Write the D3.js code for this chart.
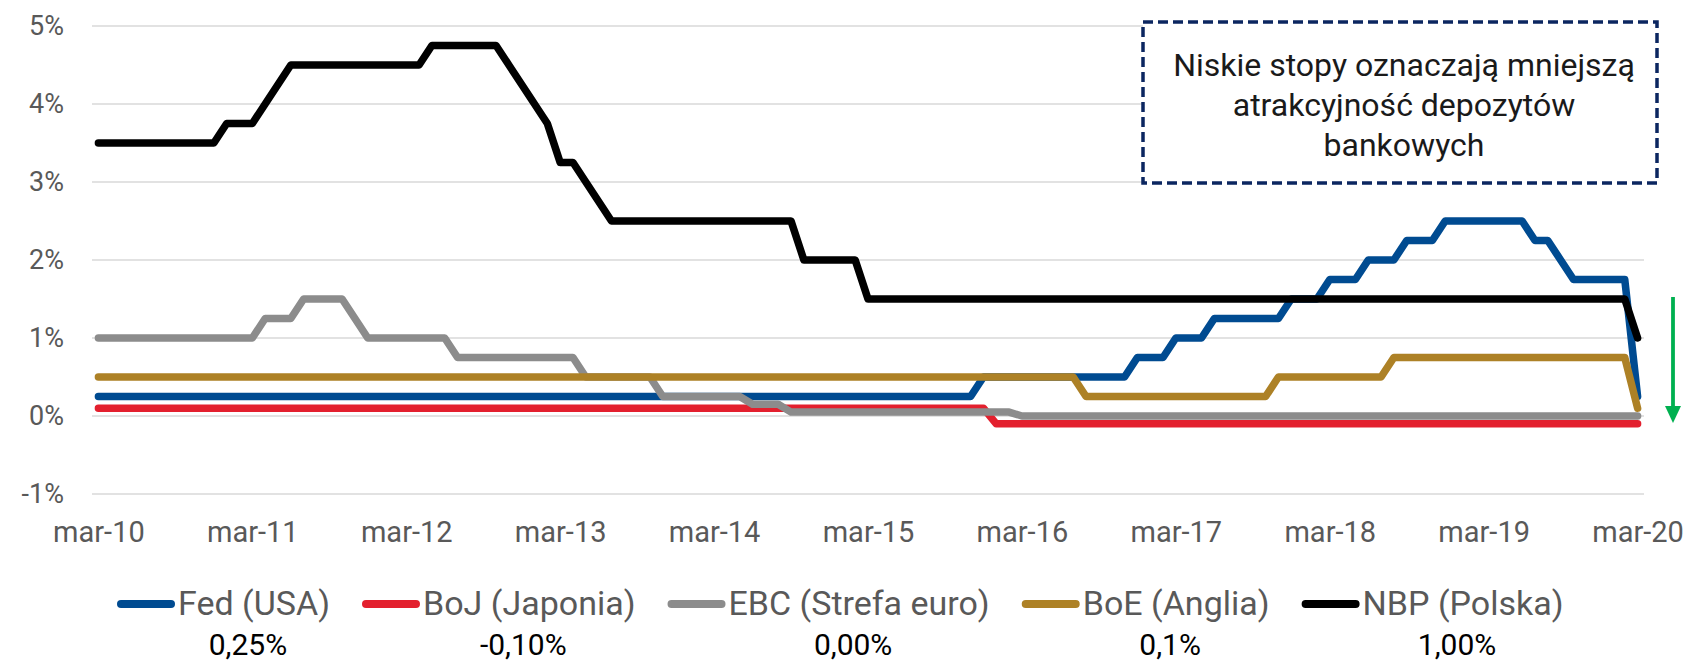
<!DOCTYPE html>
<html>
<head>
<meta charset="utf-8">
<script src="https://cdn.jsdelivr.net/npm/d3@7"></script>
<style>
  html, body { margin: 0; padding: 0; background: #fff; }
  svg { display: block; font-family: Roboto, "Noto Sans", sans-serif; }
</style>
</head>
<body>
<svg id="chart" width="1692" height="664"></svg>
<script>
// months from mar-10 to mar-20 (121 monthly points)
const monthNames = ["sty","lut","mar","kwi","maj","cze","lip","sie","wrz","paź","lis","gru"];
const months = [];
for (let i = 0; i <= 120; i++) {
	let m = (2 + i) % 12, y = 10 + Math.floor((2 + i) / 12);
	months.push(monthNames[m] + "-" + y);
}
const tickLabels = ["mar-10","mar-11","mar-12","mar-13","mar-14","mar-15","mar-16","mar-17","mar-18","mar-19","mar-20"];
const yTicks = [-1, 0, 1, 2, 3, 4, 5];

// policy rates, % (rows = mar..lut of each year)
const fed = [
	0.25,0.25,0.25,0.25,0.25,0.25,0.25,0.25,0.25,0.25,0.25,0.25,
	0.25,0.25,0.25,0.25,0.25,0.25,0.25,0.25,0.25,0.25,0.25,0.25,
	0.25,0.25,0.25,0.25,0.25,0.25,0.25,0.25,0.25,0.25,0.25,0.25,
	0.25,0.25,0.25,0.25,0.25,0.25,0.25,0.25,0.25,0.25,0.25,0.25,
	0.25,0.25,0.25,0.25,0.25,0.25,0.25,0.25,0.25,0.25,0.25,0.25,
	0.25,0.25,0.25,0.25,0.25,0.25,0.25,0.25,0.25,0.5,0.5,0.5,
	0.5,0.5,0.5,0.5,0.5,0.5,0.5,0.5,0.5,0.75,0.75,0.75,
	1,1,1,1.25,1.25,1.25,1.25,1.25,1.25,1.5,1.5,1.5,
	1.75,1.75,1.75,2,2,2,2.25,2.25,2.25,2.5,2.5,2.5,
	2.5,2.5,2.5,2.5,2.25,2.25,2,1.75,1.75,1.75,1.75,1.75,
	0.25
];
const boj = [
	0.1,0.1,0.1,0.1,0.1,0.1,0.1,0.1,0.1,0.1,0.1,0.1,
	0.1,0.1,0.1,0.1,0.1,0.1,0.1,0.1,0.1,0.1,0.1,0.1,
	0.1,0.1,0.1,0.1,0.1,0.1,0.1,0.1,0.1,0.1,0.1,0.1,
	0.1,0.1,0.1,0.1,0.1,0.1,0.1,0.1,0.1,0.1,0.1,0.1,
	0.1,0.1,0.1,0.1,0.1,0.1,0.1,0.1,0.1,0.1,0.1,0.1,
	0.1,0.1,0.1,0.1,0.1,0.1,0.1,0.1,0.1,0.1,-0.1,-0.1,
	-0.1,-0.1,-0.1,-0.1,-0.1,-0.1,-0.1,-0.1,-0.1,-0.1,-0.1,-0.1,
	-0.1,-0.1,-0.1,-0.1,-0.1,-0.1,-0.1,-0.1,-0.1,-0.1,-0.1,-0.1,
	-0.1,-0.1,-0.1,-0.1,-0.1,-0.1,-0.1,-0.1,-0.1,-0.1,-0.1,-0.1,
	-0.1,-0.1,-0.1,-0.1,-0.1,-0.1,-0.1,-0.1,-0.1,-0.1,-0.1,-0.1,
	-0.1
];
const ebc = [
	1,1,1,1,1,1,1,1,1,1,1,1,
	1,1.25,1.25,1.25,1.5,1.5,1.5,1.5,1.25,1,1,1,
	1,1,1,1,0.75,0.75,0.75,0.75,0.75,0.75,0.75,0.75,
	0.75,0.75,0.5,0.5,0.5,0.5,0.5,0.5,0.25,0.25,0.25,0.25,
	0.25,0.25,0.25,0.15,0.15,0.15,0.05,0.05,0.05,0.05,0.05,0.05,
	0.05,0.05,0.05,0.05,0.05,0.05,0.05,0.05,0.05,0.05,0.05,0.05,
	0,0,0,0,0,0,0,0,0,0,0,0,
	0,0,0,0,0,0,0,0,0,0,0,0,
	0,0,0,0,0,0,0,0,0,0,0,0,
	0,0,0,0,0,0,0,0,0,0,0,0,
	0
];
const boe = [
	0.5,0.5,0.5,0.5,0.5,0.5,0.5,0.5,0.5,0.5,0.5,0.5,
	0.5,0.5,0.5,0.5,0.5,0.5,0.5,0.5,0.5,0.5,0.5,0.5,
	0.5,0.5,0.5,0.5,0.5,0.5,0.5,0.5,0.5,0.5,0.5,0.5,
	0.5,0.5,0.5,0.5,0.5,0.5,0.5,0.5,0.5,0.5,0.5,0.5,
	0.5,0.5,0.5,0.5,0.5,0.5,0.5,0.5,0.5,0.5,0.5,0.5,
	0.5,0.5,0.5,0.5,0.5,0.5,0.5,0.5,0.5,0.5,0.5,0.5,
	0.5,0.5,0.5,0.5,0.5,0.25,0.25,0.25,0.25,0.25,0.25,0.25,
	0.25,0.25,0.25,0.25,0.25,0.25,0.25,0.25,0.5,0.5,0.5,0.5,
	0.5,0.5,0.5,0.5,0.5,0.75,0.75,0.75,0.75,0.75,0.75,0.75,
	0.75,0.75,0.75,0.75,0.75,0.75,0.75,0.75,0.75,0.75,0.75,0.75,
	0.1
];
const nbp = [
	3.5,3.5,3.5,3.5,3.5,3.5,3.5,3.5,3.5,3.5,3.75,3.75,
	3.75,4,4.25,4.5,4.5,4.5,4.5,4.5,4.5,4.5,4.5,4.5,
	4.5,4.5,4.75,4.75,4.75,4.75,4.75,4.75,4.5,4.25,4,3.75,
	3.25,3.25,3,2.75,2.5,2.5,2.5,2.5,2.5,2.5,2.5,2.5,
	2.5,2.5,2.5,2.5,2.5,2.5,2.5,2,2,2,2,2,
	1.5,1.5,1.5,1.5,1.5,1.5,1.5,1.5,1.5,1.5,1.5,1.5,
	1.5,1.5,1.5,1.5,1.5,1.5,1.5,1.5,1.5,1.5,1.5,1.5,
	1.5,1.5,1.5,1.5,1.5,1.5,1.5,1.5,1.5,1.5,1.5,1.5,
	1.5,1.5,1.5,1.5,1.5,1.5,1.5,1.5,1.5,1.5,1.5,1.5,
	1.5,1.5,1.5,1.5,1.5,1.5,1.5,1.5,1.5,1.5,1.5,1.5,
	1
];

const seriesNames = ["Fed (USA)", "BoJ (Japonia)", "EBC (Strefa euro)", "BoE (Anglia)", "NBP (Polska)"];
const seriesColors = ["#004B91", "#E3202E", "#8C8C8C", "#AD8126", "#000000"];
const lastValues = ["0,25%", "-0,10%", "0,00%", "0,1%", "1,00%"];
const noteLines = ["Niskie stopy oznaczają mniejszą", "atrakcyjność depozytów", "bankowych"];

const seriesData = [fed, boj, ebc, boe, nbp];

var svg = d3.select("#chart");

var x = d3.scalePoint().domain(months).range([92, 1644]).padding(0.5);
var y = d3.scaleLinear().domain([-1, 5]).range([494, 26]);

// gridlines
svg.append("g")
	.attr("class", "grid")
	.selectAll("line")
	.data(yTicks)
	.join("line")
	.attr("x1", 92).attr("x2", 1644)
	.attr("y1", d => y(d)).attr("y2", d => y(d))
	.style("stroke", "#D9D9D9")
	.style("stroke-width", 1.5);

// y axis labels
var yAxis = svg.append("g")
	.attr("transform", "translate(64,0)")
	.call(d3.axisLeft(y).tickValues(yTicks).tickSize(0).tickPadding(0).tickFormat(d => d + "%"));
yAxis.select(".domain").remove();
yAxis.selectAll("text")
	.style("font-family", "Roboto, sans-serif")
	.style("font-size", "27px")
	.style("fill", "#595959");

// x axis labels
var xAxis = svg.append("g")
	.attr("transform", "translate(0,519)")
	.call(d3.axisBottom(x).tickValues(tickLabels).tickSize(0).tickPadding(0));
xAxis.select(".domain").remove();
xAxis.selectAll("text")
	.attr("dy", "0.8em")
	.style("font-family", "Roboto, sans-serif")
	.style("font-size", "29px")
	.style("fill", "#595959");

// lines
var line = d3.line()
	.x((d, i) => x(months[i]))
	.y(d => y(d));

svg.append("g")
	.selectAll("path")
	.data(seriesData)
	.join("path")
	.attr("d", d => line(d))
	.style("fill", "none")
	.style("stroke", (d, i) => seriesColors[i])
	.style("stroke-width", 7.5)
	.style("stroke-linecap", "round")
	.style("stroke-linejoin", "round");

// note box
svg.append("rect")
	.attr("x", 1143).attr("y", 22)
	.attr("width", 514).attr("height", 161)
	.style("fill", "#fff")
	.style("stroke", "#0B2660")
	.style("stroke-width", 3.5)
	.style("stroke-dasharray", "10,5");

svg.append("g")
	.selectAll("text")
	.data(noteLines)
	.join("text")
	.attr("x", 1404)
	.attr("y", (d, i) => 76 + i * 40)
	.attr("text-anchor", "middle")
	.style("font-size", "32px")
	.style("fill", "#1A1A1A")
	.text(d => d);

// green arrow
svg.append("line")
	.attr("x1", 1673).attr("x2", 1673)
	.attr("y1", 297).attr("y2", 408)
	.style("stroke", "#00B050")
	.style("stroke-width", 3.8);
svg.append("path")
	.attr("d", d3.line()([[1665, 406], [1681, 406], [1673, 423]]) + "Z")
	.style("fill", "#00B050");

// legend
var legend = svg.append("g").attr("class", "legend");
let lx = 117;
seriesNames.forEach((name, i) => {
	let g = legend.append("g");
	g.append("line")
		.attr("x1", lx + 4).attr("x2", lx + 54)
		.attr("y1", 604).attr("y2", 604)
		.style("stroke", seriesColors[i])
		.style("stroke-width", 8)
		.style("stroke-linecap", "round");
	let t = g.append("text")
		.attr("x", lx + 61)
		.attr("y", 615)
		.style("font-size", "34px")
		.style("fill", "#595959")
		.text(name);
	let w = t.node().getComputedTextLength();
	g.append("text")
		.attr("x", lx + 61 + w / 2 - 6)
		.attr("y", 655)
		.attr("text-anchor", "middle")
		.style("font-size", "30px")
		.style("fill", "#000")
		.text(lastValues[i]);
	lx += 61 + w + 32;
});
</script>
</body>
</html>
